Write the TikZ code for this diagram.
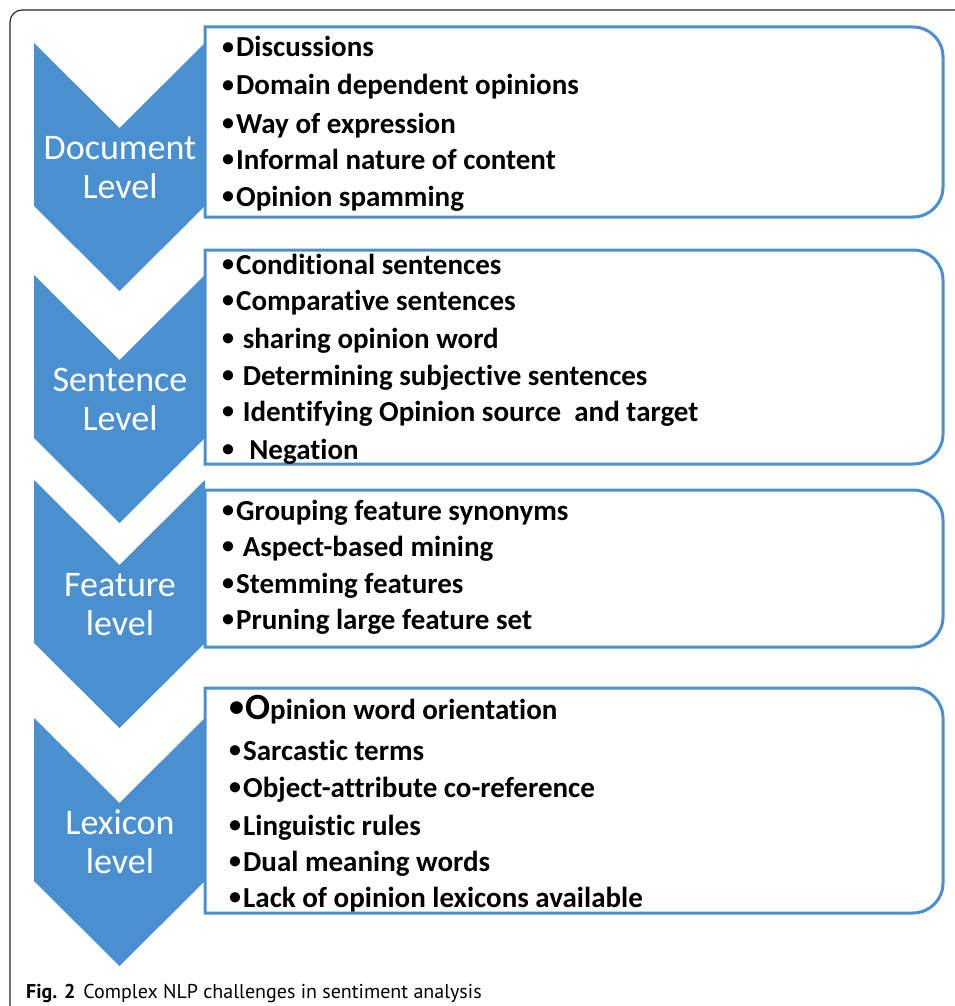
\documentclass[tikz,border=0pt]{standalone}
\usepackage{fontspec}
\setmainfont[Ligatures=NoCommon]{Carlito}
\newfontfamily\capfont{PT Sans}
\definecolor{chevblue}{HTML}{4A90D0}
\newcommand\bul{\makebox[16pt]{\raisebox{2.5pt}{\fontsize{24}{24}\selectfont•}}}

\begin{document}
\begin{tikzpicture}[x=1pt,y=1pt,
    chev/.style={fill=chevblue},
    panel/.style={draw=chevblue,line width=3pt,fill=white},
    lvl/.style={text=white,font=\fontsize{36}{39}\selectfont,anchor=base,inner sep=0pt},
    item/.style={font=\bfseries\fontsize{29}{30}\selectfont,anchor=base west,inner sep=0pt}]
  \useasboundingbox (0,0) rectangle (955,-1006);
  % frame
  \draw[line width=1.2pt,black!85] (10,-1006) -- (10,-22) arc[start angle=180,end angle=90,radius=12] -- (955,-10);
  % chevrons and their labels
  \foreach \t/\nm/\la/\lb in {43/doc/Document/Level,275/sen/Sentence/Level,480/fea/Feature/level,718/lex/Lexicon/level}{
    \fill[chev] (34,-\t) -- (119.5,-\t-85) -- (205,-\t) -- (205,-\t-163) -- (119.5,-\t-248) -- (34,-\t-163) -- cycle;
    \node[lvl] (\nm-a) at (120,-\t-116) {\la};
    \node[lvl] (\nm-b) at (120,-\t-155) {\lb};
  }
  % boxes
  \foreach \a/\b in {27/217,250/464,490/647,688/913}
    \draw[panel] (205,-\a) -- (913,-\a) arc[start angle=90,end angle=0,radius=30]
      -- (943,-\b+30) arc[start angle=0,end angle=-90,radius=30] -- (205,-\b) -- cycle;
  % document level
  \foreach \y/\txt [count=\i] in {57/Discussions,95/Domain dependent opinions,133/Way of expression,169/Informal nature of content,206/Opinion spamming}
    \node[item] (doc\i) at (220,-\y) {\bul\txt};
  % sentence level
  \foreach \y/\txt [count=\i] in {274/Conditional sentences,310/Comparative sentences,348/\ sharing opinion word,385/\ Determining subjective sentences,421/\ Identifying Opinion source\ \ and target,459/\ \ Negation}
    \node[item] (sen\i) at (220,-\y) {\bul\txt};
  % feature level
  \foreach \y/\txt [count=\i] in {520/Grouping feature synonyms,556/\ Aspect-based mining,593/Stemming features,629/Pruning large feature set}
    \node[item] (fea\i) at (220,-\y) {\bul\txt};
  % lexicon level
  \node[item] (lex1) at (228,-719) {\makebox[17pt]{\raisebox{3pt}{\fontsize{30}{30}\selectfont•}}{\fontsize{37}{37}\selectfont O}pinion word orientation};
  \foreach \y/\txt [count=\i from 2] in {760/Sarcastic terms,797/Object-attribute co-reference,835/Linguistic rules,871/Dual meaning words,907/Lack of opinion lexicons available}
    \node[item] (lex\i) at (227,-\y) {\bul\txt};
  % caption
  \node[anchor=base west,inner sep=0pt,font=\capfont\fontsize{20}{20}\selectfont] (cap) at (26,-998) {\textbf{Fig. 2}\hspace{8pt}Complex NLP challenges in sentiment analysis};
\end{tikzpicture}
\end{document}
